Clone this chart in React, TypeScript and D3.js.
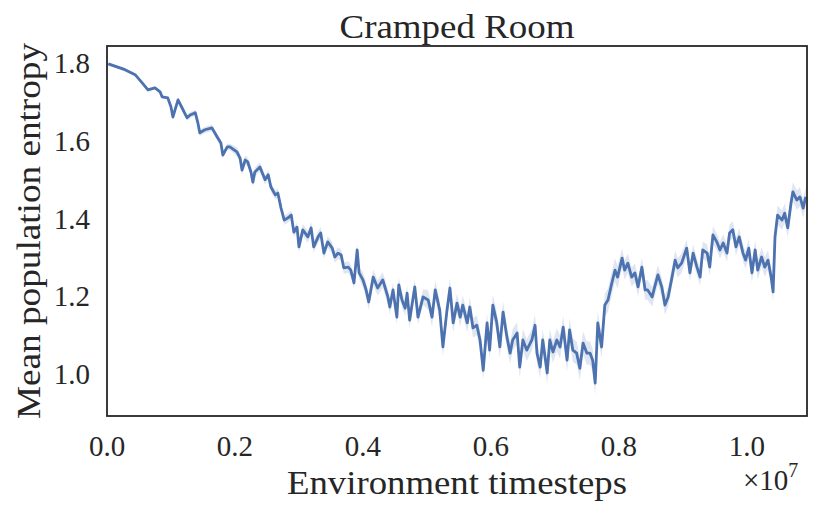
import React from 'react';
import * as d3 from 'd3';

// environment timesteps, in millions
const steps = [
  0.02, 0.28, 0.44, 0.55, 0.64, 0.75, 0.83, 0.86, 0.95, 1.00, 1.03, 1.11, 1.19, 1.25, 1.30, 1.38, 1.42, 1.45, 1.53, 1.64,
  1.72, 1.78, 1.81, 1.88, 1.92, 2.03, 2.08, 2.11, 2.16, 2.20, 2.25, 2.28,
  2.31, 2.39, 2.47, 2.52, 2.56, 2.63, 2.67, 2.72, 2.77, 2.83, 2.88, 2.92, 2.97, 3.00, 3.06, 3.14, 3.19, 3.23, 3.30, 3.34,
  3.39, 3.45, 3.52, 3.56, 3.61, 3.66, 3.70, 3.77, 3.81, 3.86, 3.91, 3.94, 4.00, 4.05, 4.09, 4.16, 4.23, 4.31, 4.39, 4.42, 4.47,
  4.53, 4.56, 4.61, 4.66, 4.69, 4.73, 4.81, 4.86, 4.94, 5.02, 5.08, 5.13, 5.20, 5.25, 5.31, 5.36, 5.41, 5.47, 5.52, 5.56,
  5.63, 5.67, 5.72, 5.78, 5.83, 5.88, 5.94, 5.98, 6.03, 6.09, 6.14, 6.19, 6.25, 6.30, 6.34, 6.41, 6.45, 6.50, 6.56, 6.64, 6.69,
  6.72, 6.77, 6.81, 6.88, 6.92, 6.97, 7.03, 7.08, 7.13, 7.19, 7.23, 7.28, 7.34, 7.39, 7.44, 7.50, 7.55, 7.59, 7.63, 7.67,
  7.73, 7.78, 7.83, 7.89, 7.94, 7.98, 8.05, 8.09, 8.14, 8.20, 8.25, 8.30, 8.36, 8.41, 8.45, 8.52, 8.56, 8.61, 8.67, 8.72, 8.77,
  8.83, 8.88, 8.92, 8.98, 9.06, 9.11, 9.16, 9.22, 9.27, 9.31, 9.38, 9.42, 9.47, 9.53, 9.58, 9.63, 9.69, 9.73, 9.78, 9.83,
  9.88, 9.94, 9.98, 10.03, 10.08, 10.13, 10.17, 10.23, 10.28, 10.33, 10.38, 10.41, 10.44, 10.48, 10.55, 10.59, 10.64, 10.69,
  10.72, 10.78, 10.83, 10.88, 10.92,
];

const entropy = [
  1.800, 1.785, 1.772, 1.751, 1.733, 1.738, 1.728, 1.715, 1.712, 1.689, 1.663, 1.707, 1.681, 1.661, 1.668, 1.674, 1.648, 1.622, 1.630, 1.635,
  1.612, 1.596, 1.565, 1.586, 1.586, 1.573, 1.557, 1.526, 1.552, 1.547, 1.521, 1.495,
  1.521, 1.534, 1.501, 1.514, 1.483, 1.462, 1.467, 1.428, 1.397, 1.403, 1.410, 1.366, 1.379, 1.328, 1.372, 1.354, 1.377, 1.328, 1.354, 1.364,
  1.312, 1.341, 1.325, 1.302, 1.312, 1.307, 1.274, 1.276, 1.268, 1.235, 1.320, 1.261, 1.243, 1.217, 1.186, 1.250, 1.222, 1.243, 1.199, 1.173, 1.217,
  1.147, 1.230, 1.191, 1.170, 1.209, 1.139, 1.225, 1.147, 1.199, 1.191, 1.147, 1.217, 1.165, 1.070, 1.160, 1.222, 1.132, 1.183, 1.147, 1.178,
  1.132, 1.173, 1.119, 1.126, 1.088, 1.010, 1.132, 1.062, 1.178, 1.134, 1.070, 1.160, 1.096, 1.054, 1.088, 1.106, 1.018, 1.088, 1.062, 1.088, 1.126,
  1.054, 1.018, 1.088, 1.003, 1.088, 1.057, 1.088, 1.070, 1.121, 1.036, 1.114, 1.062, 1.054, 1.015, 1.080, 1.054, 1.054, 1.036, 0.977, 1.132,
  1.070, 1.178, 1.191, 1.235, 1.268, 1.250, 1.299, 1.268, 1.286, 1.250, 1.261, 1.225, 1.276, 1.217, 1.217, 1.199, 1.225, 1.256, 1.225, 1.178, 1.199,
  1.250, 1.294, 1.274, 1.286, 1.325, 1.261, 1.312, 1.276, 1.250, 1.320, 1.312, 1.276, 1.359, 1.341, 1.320, 1.338, 1.312, 1.364, 1.372, 1.328,
  1.354, 1.312, 1.294, 1.325, 1.261, 1.320, 1.268, 1.302, 1.276, 1.294, 1.250, 1.212, 1.354, 1.410, 1.397, 1.415, 1.377, 1.441,
  1.470, 1.449, 1.457, 1.428, 1.457,
];

// half-width of the shaded band, one value per million steps
const spread = [0.004, 0.008, 0.012, 0.015, 0.02, 0.025, 0.028, 0.03, 0.025, 0.022, 0.025];

const xTicks = [0, 0.2, 0.4, 0.6, 0.8, 1.0];
const yTicks = [1.0, 1.2, 1.4, 1.6, 1.8];

const W = 830;
const H = 516;
const margin = { top: 46, right: 23, bottom: 100, left: 107 };
const FONT = '"Liberation Serif", "DejaVu Serif", serif';
const BLUE = '#4c72b0';
const INK = '#262626';

export default function App() {
  const innerW = W - margin.left - margin.right;
  const innerH = H - margin.top - margin.bottom;

  // x in units of 1e7
  const x = d3.scaleLinear().domain([0, 1.094]).range([0, innerW]);
  const y = d3.scaleLinear().domain([0.892, 1.846]).range([innerH, 0]);

  const points = steps.map((s, i) => ({
    t: s / 10,
    v: entropy[i],
    sd: spread[Math.min(spread.length - 1, Math.floor(s))],
  }));

  const line = d3.line<typeof points[0]>()
    .x(d => x(d.t))
    .y(d => y(d.v));

  const band = d3.area<typeof points[0]>()
    .x(d => x(d.t))
    .y0(d => y(d.v - d.sd))
    .y1(d => y(d.v + d.sd));

  return (
    <svg width={W} height={H} style={{ position: 'absolute', left: 0, top: 0, background: '#fff' }} fontFamily={FONT}>
      <text x={margin.left + innerW / 2} y={38} textAnchor="middle" fontSize={34} fill={INK}
        textLength={235} lengthAdjust="spacingAndGlyphs">
        Cramped Room
      </text>
      <g transform={`translate(${margin.left},${margin.top})`}>
        <defs>
          <clipPath id="plot-area">
            <rect x={0} y={0} width={innerW} height={innerH} />
          </clipPath>
        </defs>
        <g clipPath="url(#plot-area)">
          <path d={band(points) || ''} fill={BLUE} fillOpacity={0.18} />
          <path d={line(points) || ''} fill="none" stroke={BLUE} strokeWidth={2.8} strokeLinejoin="round" />
        </g>
        <rect x={0} y={0} width={innerW} height={innerH} fill="none" stroke={INK} strokeWidth={1.8} />

        {xTicks.map(t => (
          <text key={t} x={x(t)} y={innerH + 40} textAnchor="middle" fontSize={29} fill={INK}>
            {t.toFixed(1)}
          </text>
        ))}
        {yTicks.map(t => (
          <text key={t} x={-17} y={y(t)} dy="0.33em" textAnchor="end" fontSize={29} fill={INK}>
            {t.toFixed(1)}
          </text>
        ))}
      </g>

      <text x={margin.left + innerW / 2} y={494} textAnchor="middle" fontSize={34} fill={INK}
        textLength={340} lengthAdjust="spacingAndGlyphs">
        Environment timesteps
      </text>
      <text x={743} y={490} fontSize={29} fill={INK}>
        ×10<tspan dy={-13} fontSize={20}>7</tspan>
      </text>
      <text
        transform={`translate(40,${margin.top + innerH / 2}) rotate(-90)`}
        textAnchor="middle"
        fontSize={34}
        fill={INK}
        textLength={376}
        lengthAdjust="spacingAndGlyphs"
      >
        Mean population entropy
      </text>
    </svg>
  );
}
